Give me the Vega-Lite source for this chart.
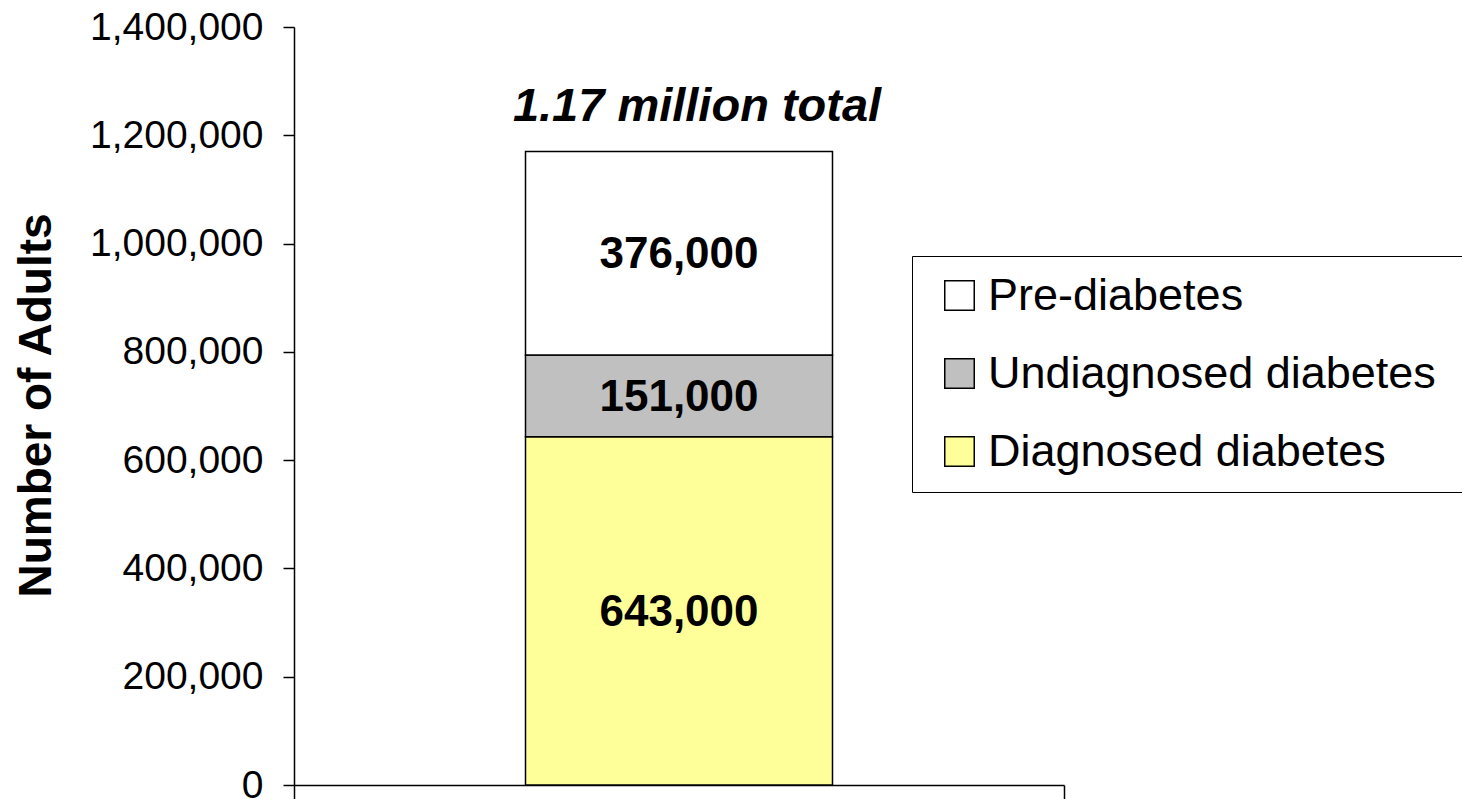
{
  "$schema": "https://vega.github.io/schema/vega-lite/v6.json",
  "width": 770,
  "height": 758,
  "autosize": {"type": "none"},
  "padding": {"left": 294, "top": 27, "right": 398, "bottom": 14},
  "background": "white",
  "config": {"view": {"stroke": null}, "font": "Liberation Sans"},
  "layer": [
    {
      "data": {"values": [
        {"group": "Adults", "category": "Diagnosed diabetes", "value": 643000, "order": 1, "label": "643,000"},
        {"group": "Adults", "category": "Undiagnosed diabetes", "value": 151000, "order": 2, "label": "151,000"},
        {"group": "Adults", "category": "Pre-diabetes", "value": 376000, "order": 3, "label": "376,000"}
      ]},
      "transform": [
        {"stack": "value", "groupby": ["group"], "sort": [{"field": "order", "order": "ascending"}], "as": ["v0", "v1"]},
        {"calculate": "(datum.v0 + datum.v1) / 2", "as": "mid"}
      ],
      "layer": [
        {
          "mark": {"type": "bar", "width": {"band": 0.3987}, "stroke": "black", "strokeWidth": 1.5},
          "encoding": {
            "x": {"field": "group", "type": "nominal", "scale": {"paddingInner": 0, "paddingOuter": 0},
              "axis": {"title": null, "labels": false, "tickBand": "extent", "tickSize": 14, "domainColor": "black", "tickColor": "black", "domainWidth": 1.5, "tickWidth": 1.5}},
            "y": {"field": "v0", "type": "quantitative", "scale": {"domain": [0, 1400000], "nice": false},
              "axis": {"title": "Number of Adults", "values": [0, 200000, 400000, 600000, 800000, 1000000, 1200000, 1400000], "format": ",d",
                "labelFontSize": 39, "labelColor": "black", "labelFont": "Liberation Sans", "tickSize": 11, "labelPadding": 20,
                "labelOverlap": false, "labelFlush": false, "grid": false,
                "domainColor": "black", "tickColor": "black", "domainWidth": 1.5, "tickWidth": 1.5,
                "titleFontSize": 46, "titleFontWeight": "bold", "titleColor": "black", "titleFont": "Liberation Sans",
                "titleX": -244, "titleY": 378, "titleAngle": 270, "titleAlign": "center", "titleBaseline": "alphabetic"}},
            "y2": {"field": "v1"},
            "color": {"field": "category", "type": "nominal",
              "scale": {"domain": ["Pre-diabetes", "Undiagnosed diabetes", "Diagnosed diabetes"], "range": ["#FFFFFF", "#C0C0C0", "#FFFF99"]},
              "legend": {"orient": "none", "legendX": 618, "legendY": 229, "title": null,
                "labelFontSize": 45, "labelColor": "black", "labelFont": "Liberation Sans", "labelLimit": 800,
                "labelExpr": "datum.label + '\u00a0\u00a0\u00a0\u00a0\u200b'",
                "symbolType": "square", "symbolSize": 870, "symbolStrokeColor": "black", "symbolStrokeWidth": 1.5, "symbolOpacity": 1,
                "rowPadding": 32, "padding": 17, "symbolOffset": 8, "labelOffset": 6,
                "strokeColor": "black", "fillColor": "white"}}
          }
        },
        {
          "mark": {"type": "text", "fontSize": 44, "fontWeight": "bold", "baseline": "alphabetic", "dy": 15, "color": "black", "font": "Liberation Sans"},
          "encoding": {
            "x": {"field": "group", "type": "nominal"},
            "y": {"field": "mid", "type": "quantitative"},
            "text": {"field": "label"}
          }
        }
      ]
    },
    {
      "data": {"values": [{"group": "Adults", "total": 1170000, "title": "1.17 million total"}]},
      "mark": {"type": "text", "fontSize": 47, "fontWeight": "bold", "fontStyle": "italic", "baseline": "alphabetic", "dy": -31, "dx": 18, "color": "black", "font": "Liberation Sans"},
      "encoding": {
        "x": {"field": "group", "type": "nominal"},
        "y": {"field": "total", "type": "quantitative", "scale": {"domain": [0, 1400000], "nice": false}},
        "text": {"field": "title"}
      }
    }
  ]
}
